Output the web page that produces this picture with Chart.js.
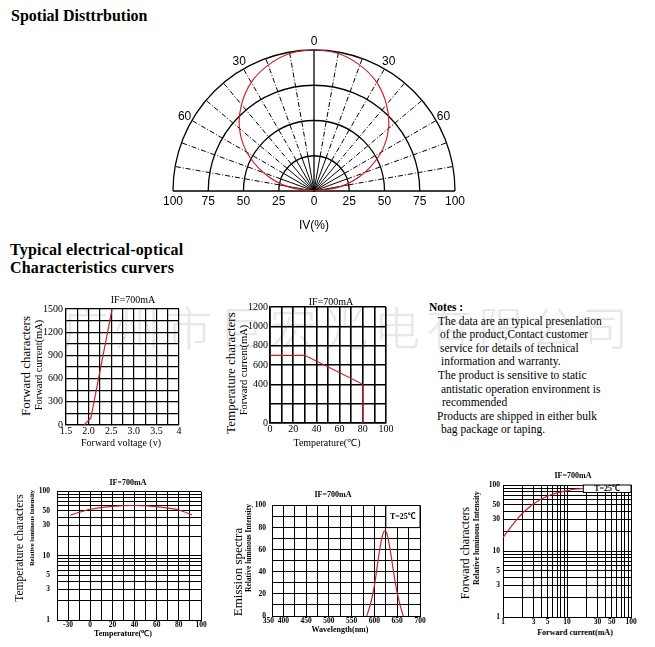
<!DOCTYPE html>
<html>
<head>
<meta charset="utf-8">
<script src="https://cdn.jsdelivr.net/npm/chart.js@4.4.0/dist/chart.umd.min.js"></script>
<style>
  body { margin: 0; width: 655px; height: 647px; background: #fff; position: relative; overflow: hidden;
         font-family: "Liberation Serif", serif; color: #000; }
  canvas { position: absolute; z-index: 1; }
  .e { position: absolute; white-space: nowrap; line-height: 1; z-index: 2; transform: translate(-50%, -50%); }
  .r { transform: translate(-50%, -50%) rotate(-90deg); }
  .b { font-weight: bold; }
  .h { position: absolute; left: 10px; font-family: "Liberation Serif", serif; font-weight: bold; font-size: 16px;
       line-height: 18px; white-space: nowrap; }
  #marca { position: absolute; left: 62px; top: 302px; font-family: "Noto Sans CJK SC"; font-weight: 300;
           font-size: 46px; line-height: 46px; letter-spacing: 6px; color: #e8e8e8; z-index: 0; white-space: nowrap; }
  #notas { position: absolute; left: 429px; top: 301px; font-size: 11.5px; line-height: 13.6px; z-index: 2; white-space: nowrap; }
  #notas div { position: relative; }
</style>
</head>
<body>
<div class="h" style="top:7px;left:11px">Spotial Disttrbution</div>
<div class="h" style="top:241px;letter-spacing:0.2px">Typical electrical-optical</div>
<div class="h" style="top:259px;letter-spacing:0.2px">Characteristics curvers</div>

<div id="marca">广州市巨宏光电有限公司</div>

<canvas id="polar" width="330" height="210" style="left:150px;top:30px"></canvas>
<div class="e" style="left:314px;top:225px;font-family:'Liberation Sans';font-size:12px">IV(%)</div>

<canvas id="voltaje" width="150" height="140" style="left:40px;top:300px"></canvas>
<div class="e" style="left:133px;top:300px;font-size:10px">IF=700mA</div>
<div class="e r" style="left:25px;top:366px;font-size:13px">Forward characters</div>
<div class="e r" style="left:39px;top:365px;font-size:10.5px">Forward current(mA)</div>
<div class="e" style="left:121px;top:443px;font-size:10px">Forward voltage (v)</div>

<canvas id="temperatura" width="155" height="142" style="left:240px;top:298px"></canvas>
<div class="e" style="left:331px;top:302px;font-size:10px">IF=700mA</div>
<div class="e r" style="left:230px;top:373px;font-size:13px">Temperature characters</div>
<div class="e r" style="left:244px;top:370px;font-size:10.5px">Forward current(mA)</div>
<div class="e" style="left:327px;top:443px;font-size:10px">Temperature(℃)</div>

<div id="notas">
  <div class="b" style="left:0">Notes :</div>
  <div style="left:9px">The data are an typical presenlation</div>
  <div style="left:11px">of the product,Contact customer</div>
  <div style="left:11px">service for details of technical</div>
  <div style="left:12px">information and warranty.</div>
  <div style="left:9px">The product is sensitive to static</div>
  <div style="left:12px">antistatic operation environment is</div>
  <div style="left:13px">recommended</div>
  <div style="left:8px">Products are shipped in either bulk</div>
  <div style="left:12px">bag package or taping.</div>
</div>

<canvas id="lumTemp" width="180" height="152" style="left:30px;top:480px"></canvas>
<div class="e b" style="left:128px;top:483px;font-size:8px">IF=700mA</div>
<div class="e r" style="left:20px;top:548px;font-size:11.5px">Temperature characters</div>
<div class="e r b" style="left:32px;top:528px;font-size:6.5px">Relative luminous Intensity</div>
<div class="e b" style="left:123px;top:634px;font-size:8px">Temperature(℃)</div>

<canvas id="espectro" width="185" height="135" style="left:245px;top:495px"></canvas>
<div class="e b" style="left:333px;top:495px;font-size:8px">IF=700mA</div>
<div class="e r" style="left:237px;top:572px;font-size:13px">Emission spectra</div>
<div class="e r b" style="left:249px;top:548px;font-size:7.5px">Relative luminous Intensity</div>
<div class="e b" style="left:340px;top:630px;font-size:8px">Wavelength(nm)</div>

<canvas id="lumCorriente" width="165" height="152" style="left:478px;top:476px"></canvas>
<div class="e b" style="left:573px;top:476px;font-size:8px">IF=700mA</div>
<div class="e r" style="left:465px;top:553px;font-size:12px">Forward characters</div>
<div class="e r b" style="left:477px;top:538px;font-size:8px">Relative luminous Intensity</div>
<div class="e b" style="left:575px;top:633px;font-size:8px">Forward current(mA)</div>

<script>
// diagrama polar
const angulos = [-90, -80, -70, -60, -50, -40, -30, -20, -10, 0, 10, 20, 30, 40, 50, 60, 70, 80, 90];
const intensidad = [0, 20, 38, 55, 69, 80, 89, 95, 99, 100, 99, 95, 89, 80, 69, 55, 38, 20, 0];
const anillos = [25, 50, 75, 100];
const rayos = [-80, -70, -60, -50, -40, -30, -20, -10, 10, 20, 30, 40, 50, 60, 70, 80];
const etiquetasAngulo = [-60, -30, 0, 30, 60];

// corriente vs voltaje
const voltaje = [1.9, 2.05, 2.52];
const corrienteV = [0, 90, 1500];
const voltajeTicks = [1.5, 2, 2.5, 3, 3.5, 4];
const voltajeEtiquetas = ["1.5", "2.0", "2.5", "3.0", "3.5", "4"];
const corrienteVTicks = [0, 300, 600, 900, 1200, 1500];

// corriente vs temperatura
const temperatura = [0, 30, 80, 80];
const corrienteT = [700, 700, 400, 0];
const temperaturaTicks = [0, 20, 40, 60, 80, 100];
const corrienteTTicks = [0, 400, 600, 800, 1000, 1200];

// luminosidad vs temperatura
const tempLum = [-18, 0, 20, 37, 60, 80, 92];
const lumTemp = [43, 53, 58.5, 60.5, 58, 51.5, 43];
const tempLumTicks = [-20, 0, 20, 40, 60, 80, 100];
const tempLumEtiquetas = ["-30", "0", "20", "40", "60", "80", "100"];

// espectro de emision
const longitudOnda = [583, 592, 600, 610, 617, 623, 629, 636, 647, 655, 663];
const espectro = [0, 12, 28, 56, 72, 77, 72, 56, 27, 12, 0];
const ondaTicks = [375, 400, 450, 500, 550, 600, 650, 700];
const ondaEtiquetas = ["350    ", "400", "450", "500", "550", "600", "650", "700"];
const espectroTicks = [0, 20, 40, 60, 80, 100];

// luminosidad vs corriente
const corrienteLum = [1, 1.5, 2, 3, 5, 7, 10, 14, 18];
const lumCorriente = [16, 27, 37, 52, 68, 76, 82, 87, 89];

// ejes logaritmicos
const rejillaLog = [1, 2, 3, 4, 5, 6, 7, 8, 9, 10, 20, 30, 40, 50, 60, 70, 80, 90, 100];
const etiquetasLog = [1, 3, 5, 10, 30, 50, 100];

const ROJO = "#d0202a";
const SERIF = "'Liberation Serif', 'Noto Sans CJK SC', serif";
const F_MEDIO = { family: SERIF, size: 10 };
const F_CHICO = { family: SERIF, size: 7.5, weight: "bold" };

const puntos = (xs, ys) => xs.map((v, i) => ({ x: v, y: ys[i] }));

const etiquetar = (valores, textos) => (v) => {
  const i = valores.findIndex((t) => Math.abs(t - v) < 1e-6);
  if (i < 0) return "";
  return textos ? textos[i] : String(v);
};

const eje = (c) => ({
  type: c.tipo || "linear",
  min: c.min,
  max: c.max,
  grid: { color: "#000", lineWidth: c.grosor || 1, drawTicks: false },
  border: { color: "#000", width: c.grosor || 1 },
  ticks: {
    stepSize: c.paso,
    autoSkip: false,
    maxRotation: 0,
    padding: c.pad,
    color: "#000",
    font: c.fuente,
    callback: etiquetar(c.valores, c.textos),
  },
  afterBuildTicks: c.rejilla ? (s) => { s.ticks = c.rejilla.map((v) => ({ value: v })); } : undefined,
  afterFit: (s) => {
    if (s.isHorizontal()) s.height = c.tam;
    else s.width = c.tam;
  },
});

// caja con la temperatura ambiente
const cajaTemp = {
  id: "cajaTemp",
  beforeDatasetsDraw(chart, args, o) {
    const { ctx, scales: { x, y } } = chart;
    const x0 = x.getPixelForValue(o.x0), x1 = x.getPixelForValue(o.x1);
    const y0 = y.getPixelForValue(o.y1), y1 = y.getPixelForValue(o.y0);
    ctx.save();
    ctx.fillStyle = "#fff";
    ctx.fillRect(x0, y0, x1 - x0, y1 - y0);
    ctx.strokeStyle = "#000";
    ctx.lineWidth = 1;
    ctx.strokeRect(x0, y0, x1 - x0, y1 - y0);
    ctx.fillStyle = "#000";
    ctx.font = "bold 8px " + SERIF;
    ctx.textAlign = "center";
    ctx.textBaseline = "middle";
    ctx.fillText(o.texto, (x0 + x1) / 2, (y0 + y1) / 2);
    ctx.restore();
  },
};

// rejilla semicircular
const rejillaPolar = {
  id: "rejillaPolar",
  beforeDatasetsDraw(chart) {
    const { ctx, scales: { x, y } } = chart;
    const cx = x.getPixelForValue(0), cy = y.getPixelForValue(0);
    const px = (v) => x.getPixelForValue(v) - cx;
    const punto = (a, r) => {
      const t = (a * Math.PI) / 180;
      return [cx + px(r) * Math.sin(t), cy - px(r) * Math.cos(t)];
    };
    ctx.save();
    ctx.strokeStyle = "#000";
    ctx.lineWidth = 1.3;
    anillos.forEach((r) => {
      ctx.beginPath();
      ctx.arc(cx, cy, px(r), Math.PI, 2 * Math.PI);
      ctx.stroke();
    });
    ctx.beginPath();
    ctx.moveTo(x.getPixelForValue(-100), cy);
    ctx.lineTo(x.getPixelForValue(100), cy);
    ctx.moveTo(cx, cy);
    ctx.lineTo(cx, y.getPixelForValue(100));
    ctx.stroke();
    ctx.lineWidth = 1;
    rayos.forEach((a) => {
      const p1 = punto(a, 25), p2 = punto(a, 100);
      ctx.setLineDash([]);
      ctx.beginPath();
      ctx.moveTo(cx, cy);
      ctx.lineTo(p1[0], p1[1]);
      ctx.stroke();
      ctx.setLineDash([5, 2, 1, 2]);
      ctx.beginPath();
      ctx.moveTo(p1[0], p1[1]);
      ctx.lineTo(p2[0], p2[1]);
      ctx.stroke();
    });
    ctx.setLineDash([]);
    ctx.fillStyle = "#000";
    ctx.font = "12px 'Liberation Sans'";
    ctx.textAlign = "center";
    ctx.textBaseline = "middle";
    etiquetasAngulo.forEach((a) => {
      const p = punto(a, 106);
      ctx.fillText(String(Math.abs(a)), p[0], p[1]);
    });
    ctx.restore();
  },
};

const crearGrafica = (id, escalas, datos, relleno, extra = {}) => {
  return new Chart(document.getElementById(id), {
    type: "scatter",
    data: {
      datasets: [
        {
          data: datos,
          showLine: true,
          borderColor: ROJO,
          borderWidth: extra.grosor || 1.2,
          pointRadius: 0,
          tension: extra.tension || 0,
          cubicInterpolationMode: extra.modo || "default",
        },
      ],
    },
    options: {
      responsive: false,
      animation: false,
      events: [],
      layout: { padding: relleno },
      scales: escalas,
      plugins: Object.assign({ legend: { display: false }, tooltip: { enabled: false } }, extra.opciones || {}),
    },
    plugins: extra.plugins || [],
  });
};

// diagrama polar
const curvaPolar = angulos.map((a, i) => {
  const t = (a * Math.PI) / 180;
  return { x: intensidad[i] * Math.sin(t), y: intensidad[i] * Math.cos(t) };
});
crearGrafica(
  "polar",
  {
    x: {
      min: -100,
      max: 100,
      grid: { display: false, drawTicks: false },
      border: { display: false },
      ticks: {
        stepSize: 25,
        padding: 3,
        color: "#000",
        autoSkip: false,
        maxRotation: 0,
        font: { family: "'Liberation Sans'", size: 12 },
        callback: (v) => String(Math.abs(v)),
      },
      afterFit: (s) => { s.height = 49; },
    },
    y: { display: false, min: 0, max: 100 },
  },
  curvaPolar,
  { left: 23, right: 25, top: 20, bottom: 0 },
  { tension: 0.4, plugins: [rejillaPolar] }
);

crearGrafica(
  "voltaje",
  {
    x: eje({ min: 1.5, max: 4, paso: 0.25, valores: voltajeTicks, textos: voltajeEtiquetas, fuente: F_MEDIO, pad: 0, tam: 15, grosor: 1.2 }),
    y: eje({ min: 0, max: 1500, paso: 150, valores: corrienteVTicks, fuente: F_MEDIO, pad: 3, tam: 26, grosor: 1.2 }),
  },
  puntos(voltaje, corrienteV),
  { left: 0, right: 11, top: 9, bottom: 0 }
);

crearGrafica(
  "temperatura",
  {
    x: eje({ min: 0, max: 100, paso: 10, valores: temperaturaTicks, fuente: F_MEDIO, pad: 0, tam: 17, grosor: 1.6 }),
    y: eje({ min: 0, max: 1200, paso: 200, valores: corrienteTTicks, fuente: F_MEDIO, pad: 2, tam: 30, grosor: 1.6 }),
  },
  puntos(temperatura, corrienteT),
  { left: 0, right: 9, top: 9, bottom: 0 }
);

crearGrafica(
  "lumTemp",
  {
    x: eje({ min: -30, max: 100, paso: 10, valores: tempLumTicks, textos: tempLumEtiquetas, fuente: F_CHICO, pad: 1, tam: 12 }),
    y: eje({ tipo: "logarithmic", min: 1, max: 100, rejilla: rejillaLog, valores: etiquetasLog, fuente: F_CHICO, pad: 7, tam: 27 }),
  },
  puntos(tempLum, lumTemp),
  { left: 0, right: 9, top: 8, bottom: 0 },
  { tension: 0.4, modo: "monotone" }
);

crearGrafica(
  "espectro",
  {
    x: eje({ min: 375, max: 700, paso: 25, valores: ondaTicks, textos: ondaEtiquetas, fuente: F_CHICO, pad: 1, tam: 14 }),
    y: eje({ min: 0, max: 100, paso: 10, valores: espectroTicks, fuente: F_CHICO, pad: 6, tam: 27 }),
  },
  puntos(longitudOnda, espectro),
  { left: 0, right: 10, top: 7, bottom: 0 },
  {
    tension: 0.4,
    modo: "monotone",
    plugins: [cajaTemp],
    opciones: { cajaTemp: { x0: 625, x1: 700, y0: 80, y1: 100, texto: "T=25℃" } },
  }
);

crearGrafica(
  "lumCorriente",
  {
    x: eje({ tipo: "logarithmic", min: 1, max: 100, rejilla: rejillaLog, valores: etiquetasLog, fuente: F_CHICO, pad: 1, tam: 11 }),
    y: eje({ tipo: "logarithmic", min: 1, max: 100, rejilla: rejillaLog, valores: etiquetasLog, fuente: F_CHICO, pad: 3, tam: 25 }),
  },
  puntos(corrienteLum, lumCorriente),
  { left: 0, right: 12, top: 9, bottom: 0 },
  {
    tension: 0.4,
    modo: "monotone",
    plugins: [cajaTemp],
    opciones: { cajaTemp: { x0: 18, x1: 100, y0: 77, y1: 100, texto: "T=25℃" } },
  }
);
</script>
</body>
</html>
